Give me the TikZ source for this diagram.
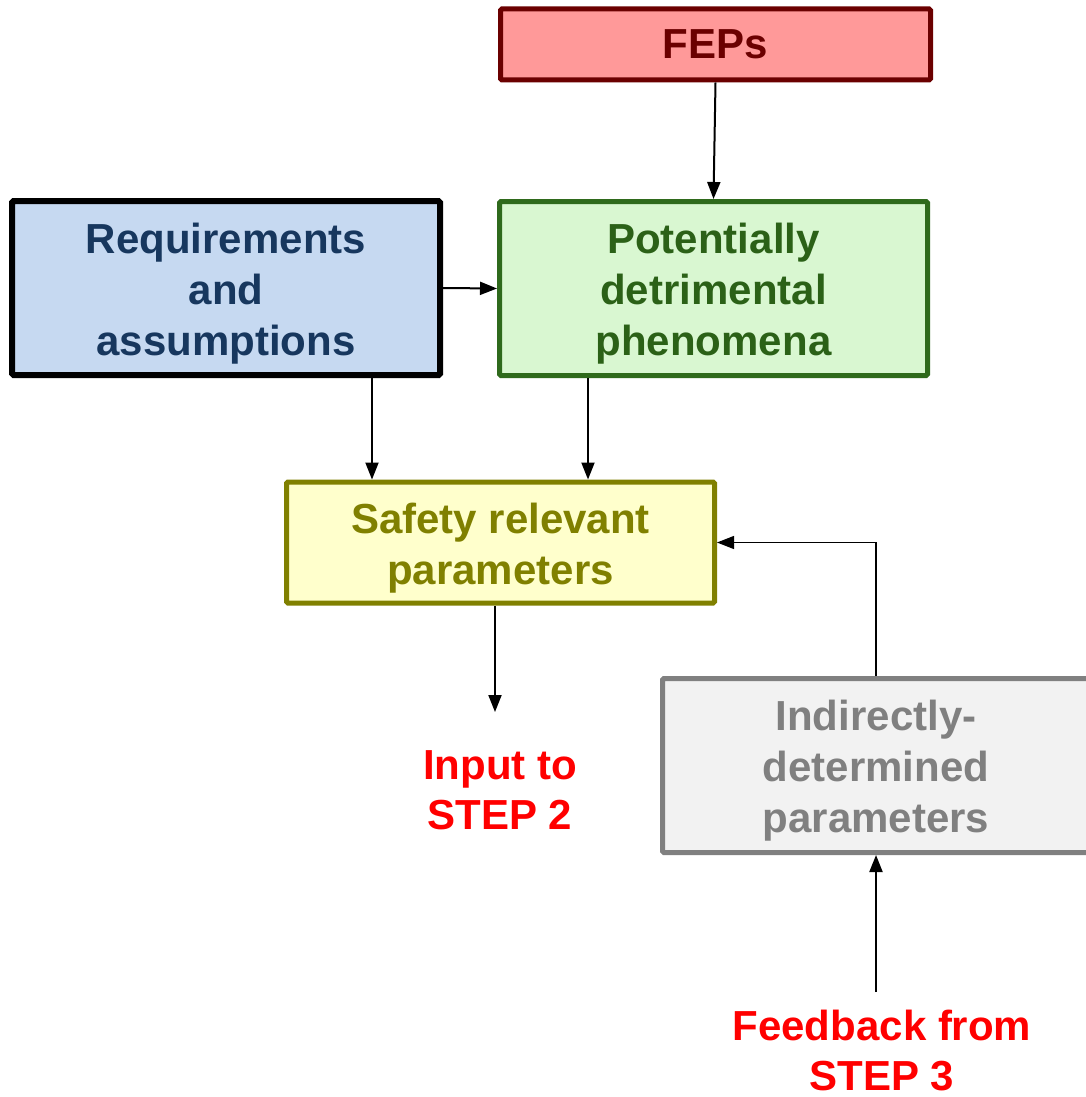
\documentclass[tikz,border=0pt]{standalone}
\usepackage{fontspec}
\setmainfont{Liberation Sans}
\usetikzlibrary{arrows.meta}
\definecolor{fepfill}{HTML}{FF9999}
\definecolor{fepline}{HTML}{6B0000}
\definecolor{reqfill}{HTML}{C6D9F1}
\definecolor{reqtext}{HTML}{17375E}
\definecolor{potfill}{HTML}{D9F7D1}
\definecolor{potline}{HTML}{2F6A1C}
\definecolor{pottext}{HTML}{2B6117}
\definecolor{saffill}{HTML}{FFFFCC}
\definecolor{safline}{HTML}{808000}
\definecolor{grayfill}{HTML}{F2F2F2}
\definecolor{grayline}{HTML}{808080}
\newcommand{\topstrut}{\rule{0pt}{41pt}}
\begin{document}
\begin{tikzpicture}[x=1pt,y=-1pt,
  boxstyle/.style={draw, line width=5pt, rounded corners=1.5pt, inner sep=0pt, align=center,
    font=\fontsize{42}{51}\selectfont\bfseries},
  redtext/.style={inner sep=0pt, align=center, text=red, font=\fontsize{42}{50}\selectfont\bfseries},
  arr/.style={line width=2pt, -{Triangle[length=17pt,width=13pt]}},
  thinarr/.style={line width=1.2pt, -{Triangle[length=17pt,width=13pt]}}]
\useasboundingbox[fill=white] (0,0) rectangle (1086,1097);
\node[boxstyle, fill=fepfill, draw=fepline, text=fepline, minimum width=430pt, minimum height=71pt] (fep) at (715.5,44.5) {FEPs};
\node[boxstyle, line width=6pt, fill=reqfill, draw=black, text=reqtext, minimum width=428pt, minimum height=174pt] (req) at (226,288) {\topstrut Requirements\\and\\assumptions};
\node[boxstyle, fill=potfill, draw=potline, text=pottext, minimum width=428pt, minimum height=174pt] (pot) at (713.5,288.5) {\topstrut Potentially\\detrimental\\phenomena};
\node[boxstyle, fill=saffill, draw=safline, text=safline, minimum width=428pt, minimum height=121pt] (saf) at (500.5,542.5) {\topstrut Safety relevant\\parameters};
\node[boxstyle, fill=grayfill, draw=grayline, text=grayline, minimum width=427pt, minimum height=174pt] (ind) at (876,765.5) {\topstrut Indirectly-\\determined\\parameters};
\node[redtext] (inp) at (500,790) {Input to\\STEP 2};
\node[redtext] (fb) at (882,1051) {Feedback from\\STEP 3};
\coordinate (xa) at (372,0);
\coordinate (xb) at (588,0);
\coordinate (xc) at (495,0);
\coordinate (inpend) at (495,712);
\coordinate (fbstart) at (876,992);
\draw[arr] (fep.south) -- (pot.north);
\draw[arr] (req.east) -- (pot.west);
\draw[arr] (req.south -| xa) -- (saf.north -| xa);
\draw[arr] (pot.south -| xb) -- (saf.north -| xb);
\draw[arr] (saf.south -| xc) -- (inpend);
\draw[thinarr] (ind.north) |- (saf.east);
\draw[arr] (fbstart) -- (ind.south);
\end{tikzpicture}
\end{document}
